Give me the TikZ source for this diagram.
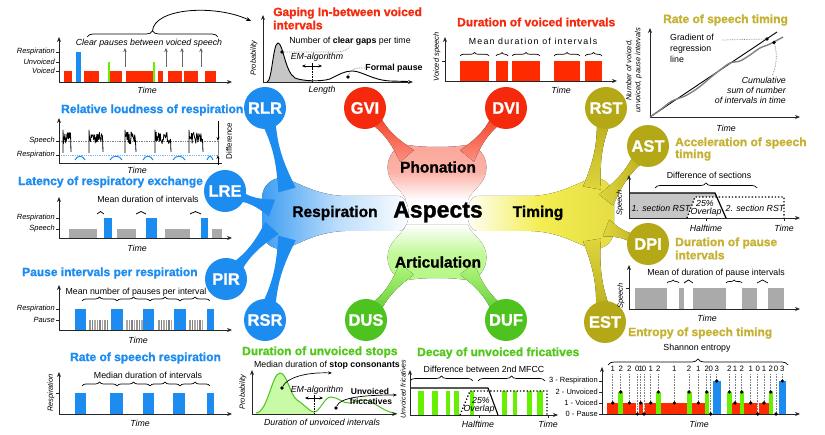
\documentclass[tikz,border=0pt]{standalone}
\usepackage{fontspec}
\setmainfont{Liberation Sans}
\newfontfamily\heavyfont[FakeBold=1.2]{Liberation Sans Bold}
\usetikzlibrary{arrows.meta,calc,decorations.pathreplacing}
\definecolor{cBlue}{HTML}{1C8CF0}
\definecolor{cRed}{HTML}{F52A0C}
\definecolor{cGreen}{HTML}{4EC21E}
\definecolor{cOlive}{HTML}{B5A816}
\definecolor{tOlive}{HTML}{C6B232}
\definecolor{tGreen}{HTML}{52C81A}
\definecolor{barRed}{HTML}{FF2A00}
\definecolor{barGreen}{HTML}{66F000}
\definecolor{barGray}{HTML}{AAAAAA}
\definecolor{cYel}{HTML}{F4EE52}
% tapered arm between a circle and a body: #1 fill, #2 start, #3 end,
% #4 half-width at start, #5 half-width of the waist, #6 half-width at end
\newcommand{\limb}[6]{%
  \coordinate (la) at #2;
  \coordinate (lb) at #3;
  \coordinate (lm1) at ($(la)!0.4!(lb)$);
  \coordinate (lm2) at ($(la)!0.6!(lb)$);
  \fill[#1] ($(la)!#4!90:(lb)$) .. controls ($(lm1)!#5!90:(lb)$) and ($(lm2)!#5!90:(lb)$) .. ($(lb)!#6!-90:(la)$)
    -- ($(lb)!#6!90:(la)$) .. controls ($(lm2)!#5!-90:(lb)$) and ($(lm1)!#5!-90:(lb)$) .. ($(la)!#4!-90:(lb)$) -- cycle;
}
\begin{document}
\begin{tikzpicture}[x=1pt, y=-1pt,
  ttl/.style={anchor=west, inner sep=0pt, font=\fontsize{12}{13}\heavyfont},
  sm/.style={inner sep=0pt, font=\fontsize{8.8}{10}\selectfont},
  smi/.style={inner sep=0pt, font=\fontsize{8.8}{10}\selectfont\itshape},
  axl/.style={inner sep=0pt, anchor=east, font=\fontsize{7.5}{8}\selectfont\itshape},
  axr/.style={inner sep=0pt, rotate=90, font=\fontsize{7.5}{8}\selectfont\itshape},
  ax/.style={line width=0.9pt, draw=black!85, -{Stealth[length=5pt,width=4pt]}},
  tk/.style={line width=0.6pt, draw=black!85},
  brc/.style={decorate, decoration={brace, amplitude=#1}, line width=0.7pt},
  brc/.default=4pt,
  circ/.style={circle, minimum size=42pt, inner sep=0pt, text=white, font=\fontsize{16.5}{17}\heavyfont},
  hub/.style={inner sep=0pt, font=\fontsize{15.5}{16}\heavyfont},
  dotln/.style={gray, densely dotted, line width=0.7pt},
  pt/.style={fill=black, circle, inner sep=0pt, minimum size=3.6pt}
]
\useasboundingbox (0,0) rectangle (825,435);
\fill[white] (0,0) rectangle (825,435);

%% ================= mind map =================
% Respiration body
\fill[left color=cBlue!85!white, right color=white, middle color=cBlue!30!white]
  (283,178) .. controls (298,182) and (315,195) .. (345,196) -- (398,196)
  .. controls (412,196) and (412,231) .. (398,231) -- (345,231)
  .. controls (315,232) and (298,245) .. (283,249)
  .. controls (270,250) and (262,240) .. (262,230) -- (262,198)
  .. controls (262,188) and (270,177) .. (283,178) -- cycle;
% Timing body
\fill[left color=white, right color=cOlive!25!cYel, middle color=cYel]
  (593,178) .. controls (578,182) and (561,195) .. (531,196) -- (478,196)
  .. controls (464,196) and (464,231) .. (478,231) -- (531,231)
  .. controls (561,232) and (578,245) .. (593,249)
  .. controls (606,250) and (614,240) .. (614,230) -- (614,198)
  .. controls (614,188) and (606,177) .. (593,178) -- cycle;
% Phonation body
\fill[top color=cRed!42!white, bottom color=white, middle color=cRed!36!white]
  (402,144) .. controls (420,148) and (455,148) .. (472,144)
  .. controls (482,150) and (488,160) .. (486,172)
  .. controls (484,185) and (470,192) .. (468,200) -- (406,200)
  .. controls (404,192) and (390,185) .. (388,172)
  .. controls (386,160) and (392,150) .. (402,144) -- cycle;
% Articulation body
\fill[top color=white, bottom color=barGreen!48!white, middle color=barGreen!40!white]
  (402,281) .. controls (420,277) and (455,277) .. (472,281)
  .. controls (482,275) and (488,265) .. (486,253)
  .. controls (484,240) and (470,233) .. (468,225) -- (406,225)
  .. controls (404,233) and (390,240) .. (388,253)
  .. controls (386,265) and (392,275) .. (402,281) -- cycle;

% arms
\limb{cBlue}{(265,108)}{(287,190)}{10pt}{2pt}{9pt}
\limb{cBlue}{(225,191)}{(272,208)}{10pt}{2pt}{9pt}
\limb{cBlue}{(226,279)}{(272,228)}{10pt}{2pt}{9pt}
\limb{cBlue}{(265,320)}{(287,238)}{10pt}{2pt}{9pt}
\limb{top color=cRed, bottom color=cRed!52!white}{(365,108)}{(407,156)}{10pt}{2pt}{9pt}
\limb{top color=cRed, bottom color=cRed!52!white}{(506,108)}{(467,156)}{10pt}{2pt}{9pt}
\limb{top color=barGreen!50!white, bottom color=cGreen}{(366,320)}{(407,269)}{10pt}{2pt}{9pt}
\limb{top color=barGreen!50!white, bottom color=cGreen}{(506,320)}{(467,269)}{10pt}{2pt}{9pt}
\limb{top color=cOlive, bottom color=cOlive!35!cYel}{(606,108)}{(592,188)}{10pt}{2pt}{9pt}
\limb{left color=cOlive!35!cYel, right color=cOlive}{(648,146)}{(606,200)}{10pt}{2pt}{9pt}
\limb{left color=cOlive!35!cYel, right color=cOlive}{(648,244)}{(606,228)}{10pt}{2pt}{9pt}
\limb{top color=cOlive!35!cYel, bottom color=cOlive}{(605,322)}{(592,240)}{10pt}{2pt}{9pt}

% circles
\node[circ, fill=cBlue] (RLR) at (265,108) {RLR};
\node[circ, fill=cBlue] (LRE) at (225,191) {LRE};
\node[circ, fill=cBlue] (PIR) at (226,279) {PIR};
\node[circ, fill=cBlue] (RSR) at (265,320) {RSR};
\node[circ, fill=cRed] (GVI) at (365,108) {GVI};
\node[circ, fill=cRed] (DVI) at (506,108) {DVI};
\node[circ, fill=cGreen] (DUS) at (366,320) {DUS};
\node[circ, fill=cGreen] (DUF) at (506,320) {DUF};
\node[circ, fill=cOlive] (RST) at (606,108) {RST};
\node[circ, fill=cOlive] (AST) at (648,146) {AST};
\node[circ, fill=cOlive] (DPI) at (648,244) {DPI};
\node[circ, fill=cOlive] (EST) at (605,322) {EST};

% hub labels
\node[hub] (phon) at (438,167) {Phonation};
\node[inner sep=0pt, font=\fontsize{23}{24}\heavyfont] (asp) at (438,212) {Aspects};
\node[hub] (resp) at (335,213) {Respiration};
\node[hub] (timg) at (538,213) {Timing};
\node[hub] (artic) at (438,262) {Articulation};

%% ================= clear pauses chart =================
\foreach \a/\b in {64/72,84/99,110/122,126/153,158/163,168/182,184/198,205/216}
  \fill[barRed] (\a,71) rectangle (\b,82);
\fill[cBlue] (76,52) rectangle (81,82);
\fill[barGreen] (108,62) rectangle (110,82);
\fill[barGreen] (153,62) rectangle (155,82);
\draw[ax] (59,82) -- (59,37);
\draw[ax] (59,82) -- (232,82);
\foreach \yy/\tx in {52/Respiration,62/Unvoiced,71/Voiced}{
  \draw[tk] (56,\yy) -- (59,\yy);
  \node[axl] at (55,\yy) {\tx};
}
\foreach \xx in {125,166,182,201}
  \draw[gray!80!black, line width=0.9pt, -{Stealth[length=4pt,width=3.5pt]}] (\xx,67) -- (\xx,48);
\node[smi] at (149,43) {Clear pauses between voiced speech};
\draw[brc=6pt] (87,37) -- (218,37);
\node[smi] at (147,90) {Time};
\coordinate (cptip) at (152.5,31);
\coordinate (cpend) at (251,21);
\draw[line width=0.8pt, -{Stealth[length=5pt,width=4pt]}] (cptip) .. controls (154,8) and (215,4) .. (cpend);

%% ================= gaping chart =================
\node[ttl, text=cRed] (tgvi) at (273,13) {Gaping In-between voiced};
\node[ttl, text=cRed] at (273,25) {intervals};
\begin{scope}
  \clip (263,0) rectangle (312,82);
  \fill[gray!45] (267,82) .. controls (272,82) and (273,43) .. (278,43) .. controls (283,43) and (285,72) .. (295,78)
    .. controls (302,81) and (320,82) .. (330,79) -- (330,82) -- cycle;
\end{scope}
\draw[line width=0.9pt] (267,82) .. controls (272,82) and (273,43) .. (278,43) .. controls (283,43) and (285,72) .. (295,78)
  .. controls (302,81) and (320,82) .. (330,79) .. controls (340,74) and (345,71) .. (352,71)
  .. controls (362,71) and (372,80) .. (390,81) -- (408,81.5);
\draw[ax] (263,82) -- (263,15);
\draw[ax] (263,82) -- (413,82);
\node[axr] at (254,58) {Probability};
\node[smi] at (322,90) {Length};
\node[sm] at (350,41) {Number of \textbf{clear gaps} per time};
\node[pt] (gd1) at (282,52) {};
\draw[dotln] (gd1) -- (335,52) .. controls (345,52) and (348,49) .. (350,46);
\node[smi] at (317,57) {EM-algorithm};
\draw[line width=0.7pt, {Stealth[length=3.5pt,width=3pt]}-{Stealth[length=3.5pt,width=3pt]}] (302,66) -- (322,66);
\draw[line width=0.7pt] (312,63) -- (312,69);
\draw[line width=0.7pt, densely dotted] (312,69) -- (312,82);
\node[pt] (gd2) at (348,77) {};
\node[sm, font=\fontsize{8.8}{10}\selectfont\bfseries] (fp) at (394,68) {Formal pause};
\draw[dotln] (gd2) .. controls (350,70) and (355,67) .. (fp.west);

%% ================= duration of voiced intervals =================
\node[ttl, text=cRed] at (457,22) {Duration of voiced intervals};
\foreach \a/\b in {460/489,496/508,512/540,554/580,585/602}{
  \fill[barRed] (\a,61) rectangle (\b,81);
  \draw[brc=3.5pt] (\a,56) -- (\b,56);
}
\draw[ax] (445,81) -- (445,37);
\draw[ax] (445,81) -- (617,81);
\draw[tk] (442,61) -- (445,61);
\node[axr] at (437,57) {Voiced speech};
\node[sm] at (533,41) {\addfontfeatures{LetterSpace=14}Mean duration of intervals};
\node[smi] at (561,90) {Time};

%% ================= rate of speech timing =================
\node[ttl, text=tOlive] at (663,20) {Rate of speech timing};
\draw[ax] (650,117) -- (650,28);
\draw[ax] (650,117) -- (800,117);
\node[axr, align=center, font=\fontsize{7.5}{9}\selectfont\itshape] at (634,70) {Number of voiced,\\unvoiced, pause intervals};
\draw[line width=0.9pt] (650,117) -- (777,32);
\draw[gray, line width=1.4pt] plot[smooth] coordinates {(650,117) (660,110) (672,101) (685,96) (698,88) (710,78) (720,70) (730,63) (740,61) (750,55) (760,48) (770,44) (783,37)};
\node[sm, align=left, anchor=north west, font=\fontsize{8.8}{11}\selectfont] at (670,34) {Gradient of\\regression\\line};
\node[pt] (rd1) at (767,39) {};
\node[pt] (rd2) at (774,42.5) {};
\draw[dotln] (722,40) -- (rd1);
\draw[dotln] (rd2) .. controls (778,55) and (776,68) .. (772,76);
\node[smi, align=right, anchor=north east, font=\fontsize{8.8}{10}\selectfont\itshape] at (786,77) {Cumulative\\sum of number\\of intervals in time};
\node[smi] at (726,128) {Time};

%% ================= relative loudness of respiration =================
\node[ttl, text=cBlue] at (61,110) {Relative loudness of respiration};
\draw[dotln] (59,141) -- (218,141);
\draw[cBlue!60!white, densely dotted, line width=0.8pt] (59,155) -- (218,155);
\pgfmathsetseed{11}
\foreach \a/\b in {63/71,89/103,125/136,155/171,189/203}{
  \draw[line width=0.8pt, line join=round] (\a,153) -- (\a,130) -- plot[domain=\a+0.5:\b-0.5, samples=26] (\x,{132+12*rnd}) -- (\b,152);
}
\foreach \a/\b in {75/85,110/122,143/153,173/185,207/213}
  \draw[cBlue, line width=1pt] (\a,160) .. controls (\a+2,155) and (\b-2,155) .. (\b,160);
\draw[ax] (59,163) -- (59,118);
\draw[line width=0.9pt, draw=black!85] (59,163) -- (222,163);
\draw[tk] (56,141) -- (59,141);
\draw[tk] (56,155) -- (59,155);
\node[axl] at (55,141) {Speech};
\node[axl] at (55,155) {Respiration};
\draw[line width=0.7pt, -{Stealth[length=4pt,width=3pt]}] (218,121) -- (218,141);
\draw[line width=0.7pt, -{Stealth[length=4pt,width=3pt]}] (218,165) -- (218,155);
\draw[line width=0.5pt, gray] (218,141) -- (218,155);
\node[inner sep=0pt, rotate=90, font=\fontsize{8}{9}\selectfont] at (229,141) {Difference};
\node[smi] at (137,170) {Time};

%% ================= latency of respiratory exchange =================
\node[ttl, text=cBlue] at (18,182) {Latency of respiratory exchange};
\node[sm] at (148,199) {Mean duration of intervals};
\foreach \a/\b in {69/97,117/136,165/190,212/222}
  \fill[barGray] (\a,229) rectangle (\b,238);
\foreach \a/\b in {104/112,146/157,201/208}
  \fill[cBlue] (\a,218) rectangle (\b,238);
\foreach \a/\b in {97/104,136/146,190/201}
  \draw[brc=2.5pt] (\a,214) -- (\b,214);
\draw[ax] (59,238) -- (59,197);
\draw[ax] (59,238) -- (232,238);
\draw[tk] (56,218) -- (59,218);
\draw[tk] (56,229) -- (59,229);
\node[axl] at (55,218) {Respiration};
\node[axl] at (55,229) {Speech};
\node[smi] at (137,248) {Time};

%% ================= pause intervals per respiration =================
\node[ttl, text=cBlue] at (22,273) {Pause intervals per respiration};
\node[sm] at (136,292) {Mean number of pauses per interval};
\foreach \a/\b in {75/86,111/123,143/154,174/186,207/214}
  \fill[cBlue] (\a,309) rectangle (\b,330);
\foreach \xx [count=\i] in {89,91.5,94,96.5,99,101.5,104,106.5,126,128.5,131,133.5,136,138.5,141,158,160.5,163,165.5,168,170.5,189,191.5,194,196.5,199,201.5}{
  \pgfmathtruncatemacro\sh{mod(\i,3)==0 ? 0 : (mod(\i,3)==1 ? 12 : 25)}
  \fill[black!\sh!barGray] (\xx,320) rectangle ++(1.5,10);
}
\foreach \a/\b in {82/117,117/150,150/180,180/210}
  \draw[brc=4pt] (\a,301) -- (\b,301);
\draw[ax] (59,330) -- (59,285);
\draw[ax] (59,330) -- (232,330);
\draw[tk] (56,309) -- (59,309);
\draw[tk] (56,320) -- (59,320);
\node[axl] at (55,309) {Respiration};
\node[axl] at (55,320) {Pause};
\node[smi] at (138,340) {Time};

%% ================= rate of speech respiration =================
\node[ttl, text=cBlue] at (70,358) {Rate of speech respiration};
\node[sm] at (148,375) {Median duration of intervals};
\foreach \a/\b in {75/86,110/123,143/154,173/185,207/214}
  \fill[cBlue] (\a,393) rectangle (\b,414);
\foreach \a/\b in {82/117,117/150,150/180,180/210}
  \draw[brc=4pt] (\a,386) -- (\b,386);
\draw[ax] (59,414) -- (59,372);
\draw[ax] (59,414) -- (232,414);
\draw[tk] (56,393) -- (59,393);
\node[axr] at (51,393) {Respiration};
\node[smi] at (140,423) {Time};

%% ================= duration of unvoiced stops =================
\node[ttl, text=tGreen] at (242,352) {Duration of unvoiced stops};
\node[sm] (sc) at (327,365) {Median duration of \textbf{stop consonants}};
\begin{scope}
  \clip (252,360) rectangle (314,414);
  \fill[barGreen!35!white] (256,413) .. controls (268,412) and (272,373) .. (280,373) .. controls (287,373) and (290,395) .. (297,400)
    .. controls (305,405) and (310,412) .. (314,412) -- (314,414) -- (256,414) -- cycle;
\end{scope}
\draw[cGreen, line width=1pt] (256,413) .. controls (268,412) and (272,373) .. (280,373) .. controls (287,373) and (290,395) .. (297,400)
  .. controls (305,405) and (310,412) .. (314,412) .. controls (320,412) and (324,397) .. (331,397)
  .. controls (338,397) and (343,404) .. (350,403) .. controls (357,402) and (360,399) .. (366,400)
  .. controls (375,402) and (385,413) .. (397,413.5);
\draw[ax] (252,414) -- (252,370);
\draw[ax] (252,414) -- (397,414);
\node[axr] at (243,392) {Probability};
\node[smi] at (322,422) {Duration of unvoiced intervals};
\node[pt] (sd1) at (282,388) {};
\coordinate (sa1) at (332,373);
\draw[line width=0.7pt, -{Stealth[length=4pt,width=3pt]}] (sd1) .. controls (287,378) and (305,372) .. (sa1);
\node[smi] at (317,390) {EM-algorithm};
\draw[line width=0.7pt, {Stealth[length=3.5pt,width=3pt]}-{Stealth[length=3.5pt,width=3pt]}] (305,398) -- (323,398);
\draw[line width=0.7pt] (314,395) -- (314,401);
\draw[line width=0.7pt, densely dotted] (314,401) -- (314,414);
\node[pt] (sd2) at (336,408) {};
\coordinate (sa2) at (397,395);
\draw[line width=0.7pt, -{Stealth[length=4pt,width=3pt]}] (sd2) .. controls (340,398) and (360,395) .. (sa2);
\node[sm, font=\fontsize{8.5}{10}\selectfont\bfseries] at (370,391) {Unvoiced};
\node[sm, font=\fontsize{8.5}{10}\selectfont\bfseries] at (371,401) {friccatives};

%% ================= decay of unvoiced fricatives =================
\node[ttl, text=tGreen] at (417,353) {Decay of unvoiced fricatives};
\node[sm] at (484,369) {Difference between 2nd MFCC};
\foreach \a/\b in {410/473,478/545}
  \draw[brc=5pt] (\a,381) -- (\b,381);
\foreach \a/\b in {418/424,432/438,446/450,454/459,470/474,502/507,513/517,527/532,537/543}
  \fill[barGreen] (\a,391) rectangle (\b,415);
\draw[line width=1.1pt] (410,388) -- (488,388) -- (498,415);
\draw[line width=1.3pt, dotted] (460,415) -- (470,391) -- (547,391) -- (547,415);
\draw[ax] (410,415) -- (410,370);
\draw[ax] (410,415) -- (558,415);
\node[axr, font=\fontsize{7}{8}\selectfont\itshape] at (403,389) {Unvoiced fricatives};
\node[smi] at (481,400) {25\%};
\node[smi] at (479,409) {Overlap};
\draw[tk] (479,415) -- (479,418);
\draw[tk] (548,415) -- (548,418);
\node[smi] at (478,424) {Halftime};
\node[smi] at (548,424) {Time};

%% ================= acceleration of speech timing =================
\node[ttl, text=tOlive] at (675,143) {Acceleration of speech};
\node[ttl, text=tOlive] at (675,155) {timing};
\node[sm] at (709,175) {Difference of sections};
\draw[brc=5pt] (655,188) -- (757,188);
\fill[gray!45] (629,218) -- (629,193) -- (715,193) -- (726,218) -- cycle;
\fill[white] (687,218) -- (695,197) -- (784,197) -- (784,218) -- cycle;
\draw[line width=1.3pt, dotted] (687,218) -- (695,197) -- (784,197) -- (784,218);
\draw[line width=1.2pt] (629,193) -- (715,193) -- (726,218);
\draw[ax] (629,218) -- (629,175);
\draw[ax] (629,218) -- (800,218);
\node[axr] at (620,203) {Speech};
\node[smi] at (661,208) {1. section RST};
\node[smi] at (705,203) {25\%};
\node[smi] at (706,212) {Overlap};
\node[smi] at (755,208) {2. section RST};
\draw[tk] (706,218) -- (706,221);
\draw[tk] (784,218) -- (784,221);
\node[smi] at (706,228) {Halftime};
\node[smi] at (784,228) {Time};

%% ================= duration of pause intervals =================
\node[ttl, text=tOlive] at (675,243) {Duration of pause};
\node[ttl, text=tOlive] at (675,255) {intervals};
\node[sm] at (716,273) {Mean of duration of pause intervals};
\foreach \a/\b in {635/667,679/684,693/726,742/757,768/784}
  \fill[barGray] (\a,288) rectangle (\b,309);
\foreach \a/\b in {667/679,684/693,726/742,757/768}
  \draw[brc=3pt] (\a,283) -- (\b,283);
\draw[ax] (629,309) -- (629,265);
\draw[ax] (629,309) -- (800,309);
\draw[tk] (626,288) -- (629,288);
\node[axr] at (621,296) {Speech};
\node[smi] at (707,318) {Time};

%% ================= entropy of speech timing =================
\node[ttl, text=tOlive] at (628,333) {Entropy of speech timing};
\node[sm] at (697,348) {Shannon entropy};
\draw[brc=6pt] (608,365) -- (788,365);
\foreach \a/\b in {607/618,623/636,638.5/643,645/656,661/687,692/705,731.5/739.5,744/756.5,759/769}
  \fill[barRed] (\a,403) rectangle (\b,414);
\foreach \a/\b in {618/623,656/661,687/692,705/709,727/731.5,739.5/744,769/773}
  \fill[barGreen] (\a,392) rectangle (\b,414);
\foreach \a/\b in {713/721,779/786}
  \fill[cBlue] (\a,381) rectangle (\b,414);
\draw[ax] (602,414) -- (602,367);
\draw[ax] (602,414) -- (800,414);
\foreach \yy/\tx in {381/3 - Respiration,392/2 - Unvoiced,403/1 - Voiced,414/0 - Pause}{
  \draw[tk] (599,\yy) -- (602,\yy);
  \node[axl, font=\fontsize{7.5}{8}\selectfont] at (598,\yy) {\tx};
}
\foreach \xx/\v/\lv in {612.7/1/1, 620.7/2/2, 629.3/2/1, 637.3/0/0, 640.7/1/1, 644/0/0, 650.7/1/1, 658.3/2/2, 674.3/1/1, 689/2/2, 698.3/1/1, 706.7/2/2, 710.7/0/0, 716.7/3/3, 729.3/2/2, 735/1/1, 741.7/2/2, 750.7/1/1, 757.7/0/0, 764/1/1, 770.7/2/2, 776/0/0, 782.3/3/3}{
  \pgfmathsetmacro\yy{414-11*\lv}
  \draw[gray, densely dotted, line width=0.6pt] (\xx,374) -- (\xx,\yy);
  \fill (\xx,\yy) circle (1.8pt);
  \node[inner sep=0pt, font=\fontsize{7.8}{9}\selectfont] at (\xx,369) {\v};
}
\node[smi] at (699,424) {Time};
\end{tikzpicture}
\end{document}
